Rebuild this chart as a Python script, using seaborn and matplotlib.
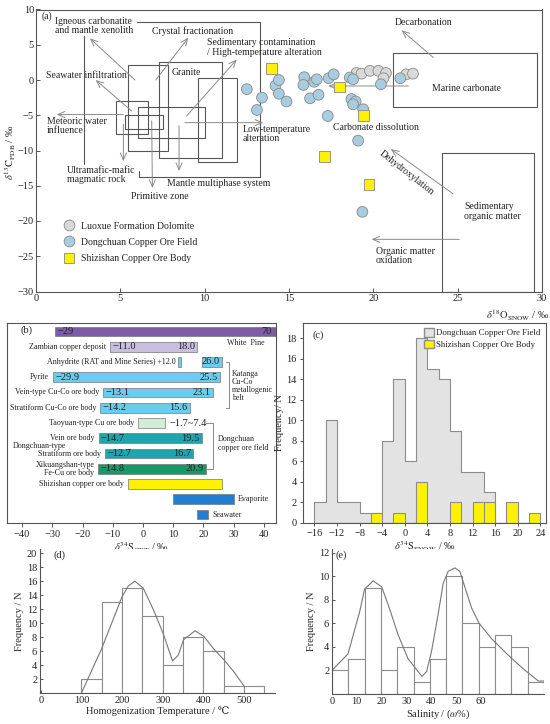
import numpy as np
import pandas as pd
import matplotlib
matplotlib.use('Agg')
import matplotlib.pyplot as plt
import seaborn as sns
from matplotlib.patches import Rectangle, Patch

# ---------------- data ----------------
# (a) C-O isotopes
luoxue_x = [19.0, 19.3, 19.8, 20.3, 20.75, 20.6, 21.95, 22.35]
luoxue_y = [1.0, 0.9, 1.3, 1.3, 1.0, 0.25, 0.8, 0.9]
dongchuan_x = [12.5, 13.4, 13.1, 14.2, 14.4, 14.4, 14.85, 15.9, 15.85, 16.5, 16.65, 16.25, 16.75,
               17.35, 17.65, 17.3, 18.6, 18.8, 18.7, 18.95, 18.8, 19.4, 20.45, 21.6, 19.1, 19.35]
dongchuan_y = [-1.3, -2.5, -4.25, -0.8, 0.0, -1.95, -3.05, 0.4, -0.7, -0.25, 0.1, -2.6, -2.1,
               0.25, 0.8, -5.1, 0.35, 0.1, -2.7, -3.05, -3.45, -4.15, -0.6, 0.25, -8.6, -18.7]
shizishan_x = [13.95, 18.0, 19.4, 17.1, 19.75]
shizishan_y = [1.6, -1.0, -5.0, -10.9, -14.8]
groups = ['Luoxue Formation Dolomite', 'Dongchuan Copper Ore Field', 'Shizishan Copper Ore Body']

# (b) sulfur isotope ranges
s_names = ['', 'Zambian copper deposit', 'Anhydrite (RAT and Mine Series) +12.0', 'Pyrite',
           'Vein-type Cu-Co ore body', 'Stratiform Cu-Co ore body', 'Taoyuan-type Cu ore body',
           'Vein ore body', 'Stratiform ore body', 'Xikuangshan-type\nFe-Cu ore body',
           'Shizishan copper ore body', '', '']
s_min = [-29, -11.0, 12.0, -29.9, -13.1, -14.2, -1.7, -14.7, -12.7, -14.8, -5.0, 10.0, 18.0]
s_max = [70, 18.0, 26.0, 25.5, 23.1, 15.6, 7.4, 19.5, 16.7, 20.9, 26.0, 30.0, 21.5]
s_colors = ['#7d5ba6', '#c9c0e0', '#6acdee', '#6acdee', '#6acdee', '#6acdee', '#d2ecd9',
            '#1fa4b0', '#1fa4b0', '#17996b', '#fff200', '#1f80d3', '#1f80d3']

# (c) d34S histogram
s34_left = [-16, -14, -12, -10, -8, -6, -4, -2, 0, 2, 4, 6, 8, 10, 12, 14, 16, 18, 20, 22]
s34_dongchuan = [2, 10, 2, 2, 1, 1, 8, 14, 6, 18, 15, 14, 9, 5, 5, 3, 0, 0, 0, 0]
s34_shizishan = [0, 0, 0, 0, 0, 1, 0, 1, 0, 4, 0, 0, 2, 0, 2, 2, 0, 2, 0, 1]

# (d) homogenization temperature
th_left = [100, 150, 200, 250, 300, 350, 400, 450, 500]
th_count = [2, 13, 15, 11, 4, 8, 6, 1, 1]
th_curve_x = [100, 150, 200, 215, 231, 252, 277, 301, 324, 338, 351, 379, 401, 424, 451, 474, 501]
th_curve_y = [0.0, 6.4, 13.8, 15.3, 16.0, 15.0, 11.9, 8.5, 4.6, 5.4, 7.6, 8.9, 8.1, 6.4, 4.7, 3.1, 0.9]

# (e) salinity
sal_left = [0, 5, 10, 15, 20, 25, 30, 35, 40, 45, 50, 55, 60]
sal_count = [2, 3, 9, 2, 4, 1, 3, 10, 6, 4, 5, 4, 1]
sal_curve_x = [0, 4.9, 8.5, 10.0, 12.6, 15.2, 17.2, 20.3, 23.3, 26.4, 27.6, 29.0, 30.5, 32.5, 34.1,
               35.6, 37.7, 39.2, 40.7, 42.8, 45.1, 48.9, 54.0, 59.2, 63.3, 65.0]
sal_curve_y = [2.0, 3.4, 7.0, 8.9, 9.6, 9.1, 7.6, 5.0, 3.0, 1.9, 1.5, 1.9, 3.6, 6.7, 9.4,
               10.4, 10.7, 10.4, 9.1, 7.3, 6.0, 4.7, 3.3, 2.0, 1.1, 1.1]
sal_tick_pos = [0, 7.5, 15.1, 22.8, 30.3, 38.2, 45.6]
sal_tick_lab = [0, 10, 20, 30, 40, 50, 60]

# ---------------- style ----------------
sns.set_style('ticks')
plt.rcParams['font.family'] = ['Liberation Serif', 'DejaVu Serif']
plt.rcParams['mathtext.fontset'] = 'stix'
plt.rcParams['axes.linewidth'] = 0.8
plt.rcParams['axes.edgecolor'] = '#555555'
plt.rcParams['xtick.color'] = '#555555'
plt.rcParams['ytick.color'] = '#555555'
plt.rcParams['xtick.labelcolor'] = '#222222'
plt.rcParams['ytick.labelcolor'] = '#222222'
plt.rcParams['text.color'] = '#222222'

W, H = 550, 724
fig = plt.figure(figsize=(5.5, 7.24), dpi=100)


def rect(x0, y0, x1, y1):
    # pixel box -> figure fraction
    return [x0 / W, 1 - y1 / H, (x1 - x0) / W, (y1 - y0) / H]


TXT = 7
GRAY = '#8a8a8a'

# ================= (a) =================
ax = fig.add_axes(rect(36, 9.5, 542, 291.5))
df = pd.DataFrame({
    'x': luoxue_x + dongchuan_x + shizishan_x,
    'y': luoxue_y + dongchuan_y + shizishan_y,
    'group': [groups[0]] * len(luoxue_x) + [groups[1]] * len(dongchuan_x) + [groups[2]] * len(shizishan_x),
})

field_boxes = [(5.47, -10.1, 7.84, 2.1), (7.31, -11.1, 11.04, 2.55), (9.62, -11.7, 11.93, 0.33),
               (4.72, -7.7, 6.62, -3.0), (6.07, -8.2, 10.02, -3.9), (5.28, -6.9, 7.55, -5.0),
               (21.18, -3.9, 29.68, 3.8), (24.05, -30, 29.54, -10.3)]
for x0, y0, x1, y1 in field_boxes:
    ax.add_patch(Rectangle((x0, y0), x1 - x0, y1 - y0, fill=False, ec='#555555', lw=0.8, zorder=1))

ax.plot([6.0, 13.28, 13.28, 6.1, 6.1], [8.27, 8.27, -13.76, -13.76, -12.9], color='#555555', lw=0.8, zorder=1)
ax.plot([2.85, 2.85], [6.2, -11.9], color='#555555', lw=0.8, zorder=1)

arrows = [((5.87, 0), (3.2, 5.9)), ((7.1, 0), (9.03, 6.0)), ((5.67, -4.4), (3.54, 0)),
          ((8.93, -5.1), (11.9, 2.9)), ((5.18, -4.9), (1.23, -4.9)), ((8.83, -6.05), (13.47, -6.05)),
          ((5.18, -6.3), (5.18, -11.5)), ((6.86, -5.8), (6.9, -15.3)), ((8.48, -6.5), (8.48, -12.9)),
          ((23.55, 3.2), (21.68, 7.05)), ((22.07, -0.85), (17.33, -0.85)),
          ((24.7, -16.1), (21.04, -9.8)), ((25.1, -22.6), (19.9, -22.6))]
for start, end in arrows:
    ax.annotate('', xy=end, xytext=start,
                arrowprops=dict(arrowstyle='->,head_length=0.5,head_width=0.22', color=GRAY,
                                lw=0.7, shrinkA=0, shrinkB=0), zorder=1)

sns.scatterplot(data=df, x='x', y='y', hue='group', style='group',
                palette=['#d9d9d9', '#a9cde0', '#fff200'], markers=['o', 'o', 's'],
                s=60, edgecolor='#888888', linewidth=0.6, ax=ax, zorder=3)

labels_a = [
    (1.13, 7.65, 'Igneous carbonatite\nand mantle xenolith'),
    (6.9, 6.9, 'Crystal fractionation'),
    (10.12, 4.6, 'Sedimentary contamination\n/ High-temperature alteration'),
    (8.04, 1.04, 'Granite'),
    (0.57, 0.57, 'Seawater infiltration'),
    (0.63, -6.55, 'Meteoric water\ninfluence'),
    (12.23, -7.7, 'Low-temperature\nalteration'),
    (1.82, -13.45, 'Ultramafic-mafic\nmagmatic rock'),
    (7.75, -14.65, 'Mantle multiphase system'),
    (5.63, -16.5, 'Primitive zone'),
    (21.28, 8.1, 'Decarbonation'),
    (23.45, -1.2, 'Marine carbonate'),
    (17.62, -6.7, 'Carbonate dissolution'),
    (25.37, -18.65, 'Sedimentary\norganic matter'),
    (20.15, -25.0, 'Organic matter\noxidation'),
]
for x, y, t in labels_a:
    ax.text(x, y, t, fontsize=TXT, ha='left', va='center', linespacing=1.05, zorder=4)
ax.text(22.0, -13.15, 'Dehydroxylation', fontsize=TXT, rotation=-38, ha='center', va='center',
        rotation_mode='anchor')
ax.text(0.34, 9.1, '(a)', fontsize=TXT, ha='left', va='center')

ax.set_xlim(0, 30)
ax.set_ylim(-30, 10)
ax.set_xticks(range(0, 31, 5))
ax.set_yticks(range(-30, 11, 5))
ax.tick_params(direction='in', length=3, width=0.7, labelsize=7.5, pad=2)
ax.tick_params(axis='y', pad=1.5)
ax.set_xlabel('')
ax.set_ylabel('')
sns.move_legend(ax, 'upper left', bbox_to_anchor=(0.038, 0.262), frameon=False, title=None,
                fontsize=7, handletextpad=0.2, labelspacing=0.75, borderaxespad=0)
fig.text(549 / W, 1 - 315 / H, r'$\delta^{18}\mathrm{O}_{\mathrm{SNOW}}$ / ‰', fontsize=7.5,
         ha='right', va='center')
fig.text(10 / W, 1 - 152 / H, r'$\delta^{13}\mathrm{C}_{\mathrm{PDB}}$ / ‰', fontsize=7.5,
         ha='center', va='center', rotation=90)

# ================= (b) =================
axb = fig.add_axes(rect(7, 323, 276, 523))
rows = np.arange(len(s_min))
BH = 0.64
for i in rows:
    lo, hi, c = s_min[i], s_max[i], s_colors[i]
    if i == 2:
        # anhydrite: narrow bar at +12.0 and the box ending at 26.0
        axb.barh(i, 1.0, left=lo - 0.5, height=BH, color=c, edgecolor='#777777', lw=0.5)
        axb.barh(i, 6.5, left=hi - 6.5, height=BH, color=c, edgecolor='#777777', lw=0.5)
        axb.text(hi - 0.6, i, '26.0', fontsize=7.5, ha='right', va='center')
    else:
        axb.barh(i, hi - lo, left=lo, height=BH, color=c, edgecolor='#777777', lw=0.5)
    if s_names[i]:
        axb.text(lo - 1.3, i, s_names[i], fontsize=5.8, ha='right', va='center', linespacing=1.0)

value_rows = [0, 1, 3, 4, 5, 7, 8, 9]
for i in value_rows:
    lo, hi = s_min[i], s_max[i]
    fmt = '{:.0f}' if i == 0 else '{:.1f}'
    axb.text(lo + 0.8, i, fmt.format(lo).replace('-', '\u2212'), fontsize=7.5, ha='left', va='center')
    axb.text(min(hi, 43.5) - 0.8, i, fmt.format(hi), fontsize=7.5, ha='right', va='center')
axb.text(s_max[6] + 1.5, 6, '\u22121.7~7.4', fontsize=7.5, ha='left', va='center')

axb.plot([27.3, 28.5, 28.5, 27.3], [2, 2, 5, 5], color='#888888', lw=0.7)
axb.plot([21.0, 23.2, 23.2, 21.3], [6, 6, 9, 9], color='#888888', lw=0.7)
axb.text(27.7, 0.75, 'White  Pine', fontsize=5.8, ha='left', va='center')
axb.text(29.4, 3.55, 'Katanga\nCu-Co\nmetallogenic\nbelt', fontsize=5.8, ha='left', va='center',
         linespacing=1.0)
axb.text(24.9, 7.35, 'Dongchuan\ncopper ore field', fontsize=5.8, ha='left', va='center', linespacing=1.05)
axb.text(-43.2, 7.5, 'Dongchuan-type', fontsize=5.8, ha='left', va='center')
axb.text(31.4, 11, 'Evaporite', fontsize=5.8, ha='left', va='center')
axb.text(23.1, 12, 'Seawater', fontsize=5.8, ha='left', va='center')
axb.text(-40.5, -0.05, '(b)', fontsize=7.5, ha='left', va='center')

axb.set_xlim(-45, 44)
axb.set_ylim(12.55, -0.55)
axb.set_xticks(range(-40, 41, 10))
axb.set_yticks([])
axb.tick_params(axis='x', direction='out', length=3, width=0.7, labelsize=7.5, pad=2)
axb.set_xlabel(r'$\delta^{34}\mathrm{S}_{\mathrm{CDT}}$ / ‰', fontsize=7.5, labelpad=1)

# ================= (c) =================
axc = fig.add_axes(rect(303, 323, 546, 523))
edges_c = s34_left + [s34_left[-1] + 2]
centers_c = [v + 1 for v in s34_left]
sns.histplot(x=centers_c, weights=s34_dongchuan, bins=edges_c, element='step', fill=True,
             color='#e3e3e3', edgecolor='#8c8c8c', linewidth=0.8, alpha=1, ax=axc)
sns.histplot(x=centers_c, weights=s34_shizishan, bins=edges_c, element='bars', fill=True,
             color='#fff200', edgecolor='#8c8c8c', linewidth=0.8, alpha=1, ax=axc)
axc.set_xlim(-18, 25)
axc.set_ylim(0, 19.5)
axc.set_xticks(range(-16, 25, 4))
axc.set_yticks(range(0, 19, 2))
axc.tick_params(direction='out', length=2.5, width=0.7, labelsize=7.5, pad=2)
axc.set_xlabel(r'$\delta^{34}\mathrm{S}_{\mathrm{SNOW}}$ / ‰', fontsize=7.5, labelpad=1)
axc.set_ylabel('Frequency/ N', fontsize=7.5, labelpad=2)
axc.legend(handles=[Patch(facecolor='#e3e3e3', edgecolor='#8c8c8c', label='Dongchuan Copper Ore Field'),
                    Patch(facecolor='#fff200', edgecolor='#8c8c8c', label='Shizishan Copper Ore Body')],
           loc='upper right', frameon=False, fontsize=6.3, handlelength=1.1, handleheight=1.1,
           handletextpad=0.3, labelspacing=0.3, borderaxespad=0.2)
axc.text(-16.3, 18.3, '(c)', fontsize=7.5, ha='left', va='center')

# ================= (d) =================
axd = fig.add_axes(rect(40, 549, 275, 693))
edges_d = th_left + [th_left[-1] + 50]
sns.histplot(x=[v + 25 for v in th_left], weights=th_count, bins=edges_d, element='bars',
             fill=True, color='white', edgecolor='#8c8c8c', linewidth=0.8, alpha=1, ax=axd)
sns.lineplot(x=th_curve_x, y=th_curve_y, color='#777777', lw=0.8, ax=axd, sort=False)
axd.set_xlim(-2, 576)
axd.set_ylim(0, 20.6)
axd.set_xticks(range(0, 501, 100))
axd.set_yticks(range(2, 21, 2))
axd.tick_params(direction='in', length=2.5, width=0.7, labelsize=7.5, pad=2)
axd.set_xlabel('Homogenization Temperature / \u2103', fontsize=7.5, labelpad=1)
axd.set_ylabel('Frequency / N', fontsize=7.5, labelpad=2)
axd.text(30, 19.7, '(d)', fontsize=7.5, ha='left', va='center')
sns.despine(ax=axd)

# ================= (e) =================
axe = fig.add_axes(rect(332, 549, 544, 694))
edges_e = sal_left + [sal_left[-1] + 5]
sns.histplot(x=[v + 2.5 for v in sal_left], weights=sal_count, bins=edges_e, element='bars',
             fill=True, color='white', edgecolor='#8c8c8c', linewidth=0.8, alpha=1, ax=axe)
sns.lineplot(x=sal_curve_x, y=sal_curve_y, color='#777777', lw=0.8, ax=axe, sort=False)
axe.set_xlim(0, 65)
axe.set_ylim(0, 12.3)
axe.set_xticks(sal_tick_pos)
axe.set_xticklabels(sal_tick_lab)
axe.set_yticks(range(2, 13, 2))
axe.tick_params(direction='in', length=2.5, width=0.7, labelsize=7.5, pad=2)
axe.set_xlabel(r'Salinity / ($\omega$%)', fontsize=7.5, labelpad=1)
axe.set_ylabel('Frequency / N', fontsize=7.5, labelpad=2)
axe.text(1.2, 11.8, '(e)', fontsize=7.5, ha='left', va='center')
sns.despine(ax=axe)

fig.savefig('out.png', dpi=100)
